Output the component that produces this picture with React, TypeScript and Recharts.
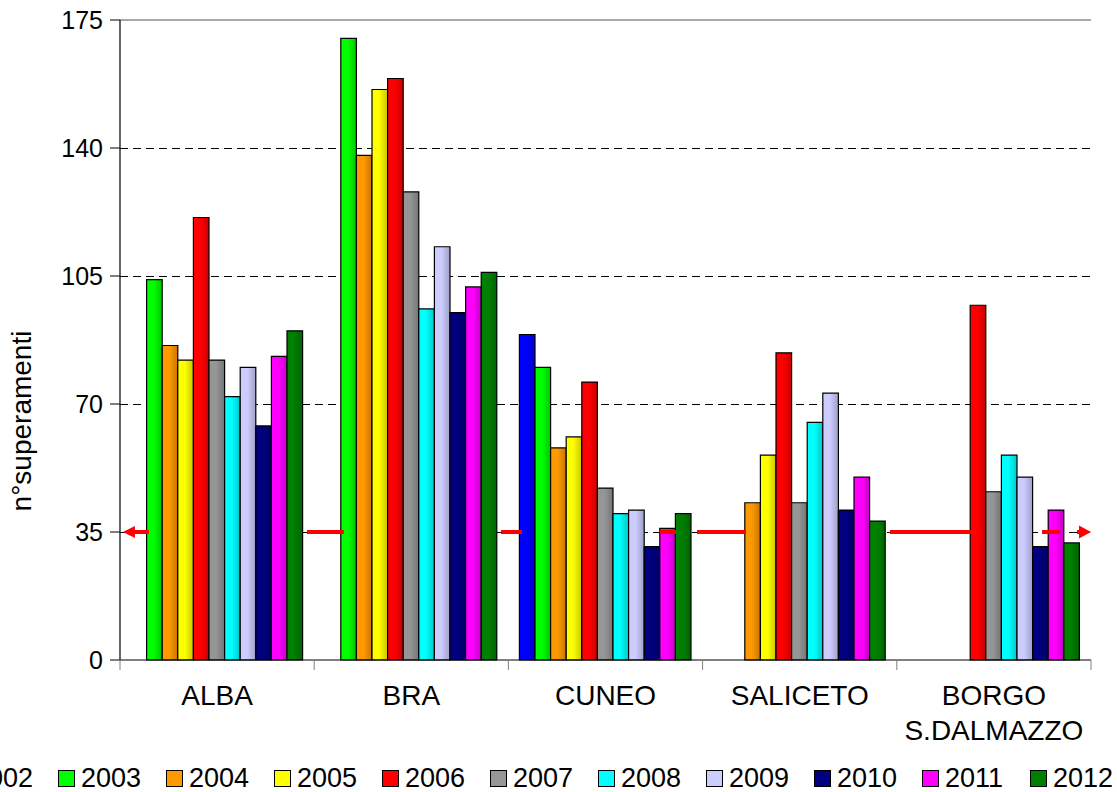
import React from 'react';
import { BarChart, Bar, XAxis, YAxis, CartesianGrid, Legend, ReferenceLine } from 'recharts';

const FONT = '"Liberation Sans", Arial, Helvetica, sans-serif';

const STATIONS = ['ALBA', 'BRA', 'CUNEO', 'SALICETO', 'BORGO\nS.DALMAZZO'];
const YEARS = ['2002', '2003', '2004', '2005', '2006', '2007', '2008', '2009', '2010', '2011', '2012'];
const Y_TICKS = [0, 35, 70, 105, 140, 175];
const GRID_VALUES = [35, 70, 105, 140];
const LIMIT = 35;

// exceedances per station, one list per year (null = no measurement)
const v2002 = [null, null, 89, null, null];
const v2003 = [104, 170, 80, null, null];
const v2004 = [86, 138, 58, 43, null];
const v2005 = [82, 156, 61, 56, null];
const v2006 = [121, 159, 76, 84, 97];
const v2007 = [82, 128, 47, 43, 46];
const v2008 = [72, 96, 40, 65, 56];
const v2009 = [80, 113, 41, 73, 50];
const v2010 = [64, 95, 31, 41, 31];
const v2011 = [83, 102, 36, 50, 41];
const v2012 = [90, 106, 40, 38, 32];

const SERIES = [v2002, v2003, v2004, v2005, v2006, v2007, v2008, v2009, v2010, v2011, v2012];

const COLORS = [
  '#0000ff', '#00ff00', '#ff9900', '#ffff00', '#ff0000', '#969696',
  '#00ffff', '#ccccff', '#000080', '#ff00ff', '#008000',
];

const data = STATIONS.map((station, i) => {
  const row: Record<string, string | number | null> = { station };
  YEARS.forEach((y, k) => {
    row[y] = SERIES[k][i];
  });
  return row;
});

// pieces of the red limit marker, in band units from the plot's left edge
const LIMIT_PIECES: [number, number][] = [
  [0.015, 0.149],
  [0.963, 1.153],
  [1.962, 2.07],
  [2.781, 2.863],
  [2.971, 3.223],
  [3.965, 4.428],
  [4.748, 4.84],
  [4.928, 5.0],
];

function darken(hex: string, f: number) {
  const n = parseInt(hex.slice(1), 16);
  const r = Math.round(((n >> 16) & 255) * f);
  const g = Math.round(((n >> 8) & 255) * f);
  const b = Math.round((n & 255) * f);
  return `rgb(${r},${g},${b})`;
}

function LimitShape(props: any) {
  const { x1, x2, y1 } = props;
  const band = (x2 - x1) / STATIONS.length;
  const last = LIMIT_PIECES.length - 1;
  return (
    <g>
      {LIMIT_PIECES.map(([a, b], i) => {
        let xa = x1 + a * band;
        let xb = x1 + b * band;
        const head = [];
        if (i === 0) {
          head.push(
            <polygon key="h" points={`${xa},${y1} ${xa + 12},${y1 - 6} ${xa + 12},${y1 + 6}`} fill="#ff0000" />
          );
          xa += 10;
        }
        if (i === last) {
          head.push(
            <polygon key="h" points={`${xb},${y1} ${xb - 12},${y1 - 6.5} ${xb - 12},${y1 + 6.5}`} fill="#ff0000" />
          );
          xb -= 10;
        }
        return (
          <g key={i}>
            <line x1={xa} x2={xb} y1={y1} y2={y1} stroke="#ff0000" strokeWidth={4} />
            {head}
          </g>
        );
      })}
    </g>
  );
}

// plot frame: gray top and right edges
function FrameShape(props: any) {
  const { x1, x2, y1 } = props;
  return (
    <g>
      <line x1={x1} x2={x2} y1={y1} y2={y1} stroke="#8c8c8c" strokeWidth={1.5} />
    </g>
  );
}

function StationTick(props: any) {
  const { x, y, payload, index, visibleTicksCount } = props;
  const half = payload && payload.offset ? payload.offset : 97.1;
  const axisY = y - 10;
  const lines = String(payload.value).split('\n');
  return (
    <g>
      <line x1={x - half} x2={x - half} y1={axisY} y2={axisY + 10} stroke="#808080" />
      {index === visibleTicksCount - 1 && (
        <line x1={x + half} x2={x + half} y1={axisY} y2={axisY + 10} stroke="#808080" />
      )}
      <text x={x} y={y + 35} textAnchor="middle" fontSize={28} fontFamily={FONT} fill="#000">
        {lines.map((l, i) => (
          <tspan key={i} x={x} dy={i === 0 ? 0 : 35}>
            {l}
          </tspan>
        ))}
      </text>
    </g>
  );
}

function YearLegend({ payload }: any) {
  return (
    <div style={{ display: 'flex', whiteSpace: 'nowrap', fontFamily: FONT, fontSize: 27, lineHeight: '30px', color: '#000' }}>
      {(payload || []).map((p: any) => {
        const k = YEARS.indexOf(String(p.value));
        return (
          <div key={p.value} style={{ width: 108, display: 'flex', alignItems: 'center', flex: 'none' }}>
            <span
              style={{
                width: 15,
                height: 15,
                background: COLORS[k],
                border: '1px solid #000',
                marginRight: 6,
                flex: 'none',
              }}
            />
            <span>{p.value}</span>
          </div>
        );
      })}
    </div>
  );
}

export default function App() {
  return (
    <div style={{ position: 'absolute', left: 0, top: 0, background: '#fff' }}>
      <BarChart
        width={1117}
        height={792}
        data={data}
        margin={{ top: 20, right: 26, bottom: 0, left: 0 }}
        barGap={0}
        barSize={15.6}
      >
        <defs>
          {COLORS.map((c, k) => (
            <linearGradient key={k} id={`bar${k}`} x1="0" y1="0" x2="1" y2="0">
              <stop offset="0%" stopColor={c} />
              <stop offset="45%" stopColor={c} />
              <stop offset="100%" stopColor={darken(c, 0.78)} />
            </linearGradient>
          ))}
        </defs>
        <CartesianGrid
          vertical={false}
          horizontalValues={GRID_VALUES}
          stroke="#000"
          strokeDasharray="8 5"
          shapeRendering="crispEdges"
        />
        <XAxis
          dataKey="station"
          height={132}
          interval={0}
          tickLine={false}
          tickSize={10}
          tickMargin={0}
          axisLine={{ stroke: '#000', strokeWidth: 1.2 }}
          tick={<StationTick />}
        />
        <YAxis
          width={120}
          domain={[0, 175]}
          ticks={Y_TICKS}
          interval={0}
          tickSize={10}
          tickMargin={7}
          tickLine={{ stroke: '#000' }}
          axisLine={{ stroke: '#000', strokeWidth: 1.2 }}
          tick={{ fontSize: 25, fill: '#000', fontFamily: FONT }}
          label={{
            content: () => (
              <text
                x={31}
                y={421}
                transform="rotate(-90 31 421)"
                textAnchor="middle"
                fontSize={28}
                fontFamily={FONT}
                fill="#000"
              >
                n°superamenti
              </text>
            ),
          }}
        />
        <YAxis
          yAxisId="frame"
          orientation="right"
          width={0}
          domain={[0, 175]}
          tick={false}
          tickLine={false}
          axisLine={{ stroke: '#8c8c8c', strokeWidth: 1.5 }}
        />
        <ReferenceLine y={175} ifOverflow="visible" shape={<FrameShape />} />
        {YEARS.map((y, k) => (
          <Bar
            key={y}
            dataKey={y}
            name={y}
            fill={`url(#bar${k})`}
            stroke="#000"
            strokeWidth={1.2}
            isAnimationActive={false}
          />
        ))}
        <ReferenceLine y={LIMIT} stroke="#ff0000" shape={<LimitShape />} />
        <Legend
          layout="horizontal"
          verticalAlign="middle"
          align="center"
          content={<YearLegend />}
          wrapperStyle={{ left: -50, top: 763, width: 1200, height: 30 }}
        />
      </BarChart>
    </div>
  );
}
